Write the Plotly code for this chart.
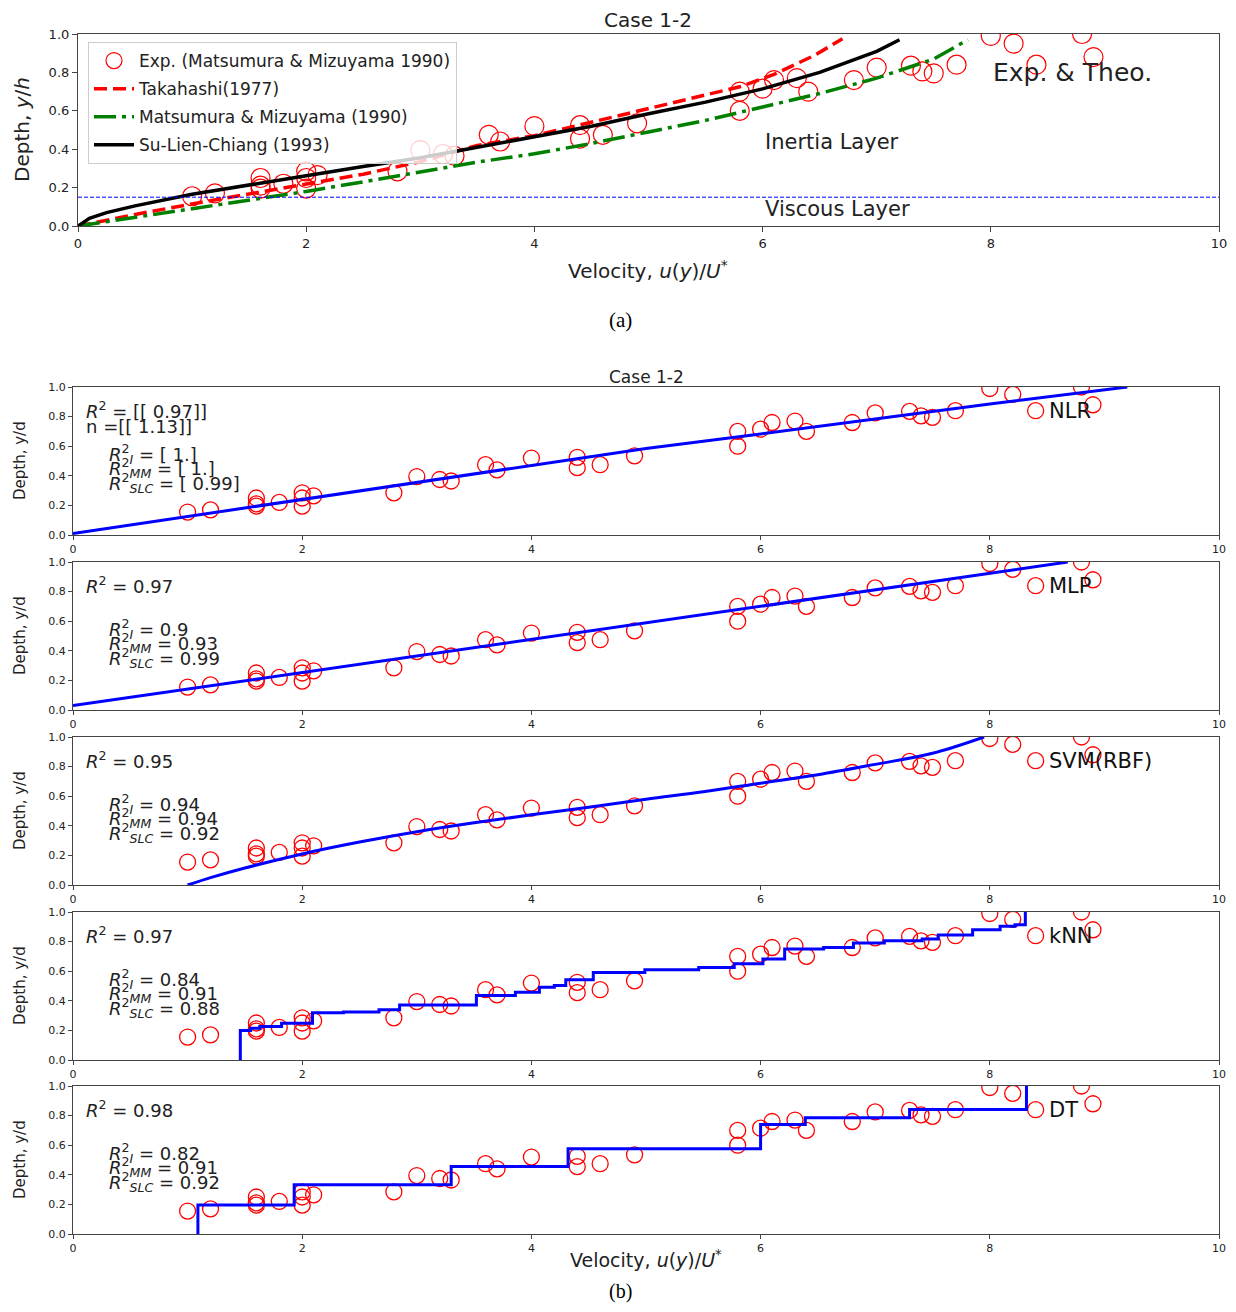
import plotly.graph_objects as go

# ---------------- data ----------------
exp_u = [1.0, 1.2, 1.6, 1.6, 1.6, 1.8, 2.0, 2.0, 2.0, 2.1, 2.8, 3.0, 3.2, 3.3, 3.6, 3.7, 4.0, 4.4, 4.4,
         4.6, 4.9, 5.8, 5.8, 6.0, 6.1, 6.3, 6.4, 6.8, 7.0, 7.3, 7.4, 7.5, 7.7, 8.0, 8.2, 8.4, 8.8, 8.9]
exp_y = [0.155, 0.17, 0.25, 0.21, 0.195, 0.22, 0.285, 0.25, 0.195, 0.265, 0.285, 0.395, 0.375, 0.365,
         0.475, 0.44, 0.52, 0.525, 0.455, 0.475, 0.535, 0.70, 0.60, 0.715, 0.76, 0.77, 0.70, 0.76, 0.825,
         0.835, 0.805, 0.795, 0.84, 0.99, 0.95, 0.84, 1.0, 0.88]

tak_u = [0, 0.5, 1, 1.5, 2, 2.5, 3, 3.5, 4, 4.5, 5, 5.5, 5.8, 6.1, 6.45, 6.7]
tak_y = [0, 0.06, 0.115, 0.168, 0.22, 0.27, 0.335, 0.42, 0.47, 0.54, 0.61, 0.68, 0.725, 0.79, 0.887, 0.975]

mm_u = [0, 0.5, 1, 1.5, 2, 2.5, 3, 3.5, 4, 4.5, 5, 5.5, 6, 6.5, 7, 7.5, 7.8]
mm_y = [0, 0.045, 0.09, 0.135, 0.18, 0.23, 0.28, 0.333, 0.376, 0.43, 0.49, 0.55, 0.62, 0.69, 0.77, 0.87, 0.97]

sl_u = [0, 0.1, 0.25, 0.5, 1, 1.5, 2, 2.5, 3, 3.5, 4, 4.5, 5, 5.5, 6, 6.5, 7, 7.2]
sl_y = [0, 0.04, 0.07, 0.105, 0.165, 0.215, 0.262, 0.31, 0.355, 0.41, 0.463, 0.52, 0.585, 0.645, 0.714, 0.8, 0.91, 0.97]

viscous_limit = 0.15

nlr_u = [0, 1, 2, 3, 4, 5, 6, 7, 8, 9.2]
nlr_y = [0.01, 0.125, 0.24, 0.357, 0.475, 0.585, 0.683, 0.785, 0.885, 1.0]

mlp_u = [0, 8.68]
mlp_y = [0.03, 1.0]

svm_u = [1.0, 1.2, 1.5, 2.0, 2.5, 3.0, 3.5, 4.0, 4.5, 5.0, 5.5, 6.0, 6.5, 7.0, 7.5, 7.95]
svm_y = [0.0, 0.05, 0.115, 0.21, 0.29, 0.36, 0.42, 0.474, 0.525, 0.58, 0.63, 0.688, 0.745, 0.815, 0.89, 1.0]

knn_u = [1.46, 1.46, 1.55, 1.63, 1.82, 2.09, 2.36, 2.67, 2.85, 3.52, 3.86, 4.07, 4.2, 4.3, 4.54, 4.99,
         5.46, 5.77, 6.02, 6.21, 6.55, 6.81, 7.08, 7.41, 7.55, 7.85, 8.09, 8.22, 8.31, 8.31]
knn_y = [0, 0.2, 0.214, 0.226, 0.248, 0.32, 0.325, 0.34, 0.372, 0.436, 0.458, 0.492, 0.503, 0.542, 0.591,
         0.61, 0.625, 0.65, 0.682, 0.75, 0.76, 0.79, 0.806, 0.817, 0.844, 0.88, 0.903, 0.914, 0.914, 1.05]

dt_u = [1.09, 1.09, 1.93, 3.3, 4.32, 6.0, 6.39, 7.3, 8.32, 8.32]
dt_y = [0, 0.196, 0.332, 0.456, 0.576, 0.74, 0.786, 0.842, 0.842, 1.05]

model_names = ["NLR", "MLP", "SVM(RBF)", "kNN", "DT"]
r2_text = ["<i>R</i><sup>2</sup> = [[ 0.97]]", "<i>R</i><sup>2</sup> = 0.97", "<i>R</i><sup>2</sup> = 0.95",
           "<i>R</i><sup>2</sup> = 0.97", "<i>R</i><sup>2</sup> = 0.98"]
r2_i = ["[ 1.]", "0.9", "0.94", "0.84", "0.82"]
r2_mm = ["[ 1.]", "0.93", "0.94", "0.91", "0.91"]
r2_slc = ["[ 0.99]", "0.99", "0.92", "0.88", "0.92"]

x_ticks = [0, 2, 4, 6, 8, 10]
y_ticks = [0.0, 0.2, 0.4, 0.6, 0.8, 1.0]

# ---------------- layout helpers ----------------
# the page body has an 8px margin; the figure is sized so that no scrollbars appear
OFF = 8
WF, HF = 1220, 1296
def fx(p): return (p - OFF) / WF
def fy(p): return 1 - (p - OFF) / HF

FONT = "DejaVu Sans"
AX = "#444"
TXT = "#222"

fig = go.Figure()

# ---------------- top panel ----------------
fig.add_trace(go.Scatter(x=exp_u, y=exp_y, mode="markers", name="Exp. (Matsumura & Mizuyama 1990)",
                         legendgroup="a",
                         marker=dict(symbol="circle-open", size=19, color="red", line=dict(width=1.2)),
                         xaxis="x", yaxis="y"))
fig.add_trace(go.Scatter(x=tak_u, y=tak_y, mode="lines", name="Takahashi(1977)", legendgroup="b",
                         line=dict(color="red", width=3.5, dash="13px,6px"), xaxis="x", yaxis="y"))
fig.add_trace(go.Scatter(x=mm_u, y=mm_y, mode="lines", name="Matsumura & Mizuyama (1990)", legendgroup="c",
                         line=dict(color="green", width=3.5, dash="22px,6px,4px,6px"), xaxis="x", yaxis="y"))
fig.add_trace(go.Scatter(x=sl_u, y=sl_y, mode="lines", name="Su-Lien-Chiang (1993)", legendgroup="d",
                         line=dict(color="black", width=3.5), xaxis="x", yaxis="y"))
fig.add_trace(go.Scatter(x=[x_ticks[0], x_ticks[-1]], y=[viscous_limit, viscous_limit], mode="lines",
                         showlegend=False, line=dict(color="blue", width=1, dash="4px,2px"),
                         xaxis="x", yaxis="y"))

def axis_style(domain, anchor, tickfont, ticklen=5):
    return dict(domain=domain, anchor=anchor, showline=True, linecolor=AX, linewidth=1.2, mirror=True,
                ticks="outside", ticklen=ticklen, tickcolor=AX, showgrid=False, zeroline=False,
                tickfont=tickfont, automargin=False)

layout = dict(template="none", width=WF, height=HF, autosize=False, margin=dict(l=0, r=0, t=0, b=0, pad=0),
              plot_bgcolor="white", paper_bgcolor="white", showlegend=True,
              legend=dict(x=fx(88), y=fy(42), xanchor="left", yanchor="top",
                          bgcolor="rgba(255,255,255,0.8)", bordercolor="#ccc", borderwidth=1,
                          font=dict(family=FONT, size=17, color=TXT), itemwidth=40,
                          tracegroupgap=3))

top_tick_font = dict(family=FONT, size=13, color=TXT)
layout["xaxis"] = axis_style([fx(78), fx(1219)], "y", top_tick_font)
layout["xaxis"].update(range=[0, 10], tickvals=x_ticks)
layout["yaxis"] = axis_style([fy(226), fy(34)], "x", top_tick_font)
layout["yaxis"].update(range=[0, 1.0], tickvals=y_ticks, tickformat=".1f")

ann = []
def add_ann(text, x, y, xref="paper", yref="paper", size=17, family=FONT, xanchor="center", angle=0,
            color=TXT):
    ann.append(dict(text=text, x=x, y=y, xref=xref, yref=yref, showarrow=False, xanchor=xanchor,
                    yanchor="middle", textangle=angle, font=dict(family=family, size=size, color=color)))

add_ann("Case 1-2", fx(648), fy(20), size=20)
add_ann("Depth, <i>y</i>/<i>h</i>", fx(22), fy(130), size=20, angle=-90)
add_ann("Velocity, <i>u</i>(<i>y</i>)/<i>U</i><sup>*</sup>", fx(648), fy(270), size=20)
add_ann("Inertia Layer", 6.61, 0.44, "x", "y", size=21)
add_ann("Viscous Layer", 6.66, 0.09, "x", "y", size=21)
add_ann("Exp. & Theo.", 8.72, 0.80, "x", "y", size=25)
add_ann("(a)", fx(620), fy(320), size=21, family="Liberation Serif", color="black")
add_ann("(b)", fx(620), fy(1291), size=20, family="Liberation Serif", color="black")

# ---------------- bottom panels ----------------
tops = [387, 562, 737, 912, 1086]
bots = [535, 710, 885, 1060, 1234]
fits = [(nlr_u, nlr_y, "linear"), (mlp_u, mlp_y, "linear"), (svm_u, svm_y, "spline"),
        (knn_u, knn_y, "hv"), (dt_u, dt_y, "hv")]
bot_tick_font = dict(family=FONT, size=11, color=TXT)
TS = 18

for i in range(5):
    k = i + 2
    xa, ya = f"x{k}", f"y{k}"
    fig.add_trace(go.Scatter(x=exp_u, y=exp_y, mode="markers", showlegend=False,
                             marker=dict(symbol="circle-open", size=16, color="red", line=dict(width=1.3)),
                             xaxis=xa, yaxis=ya))
    fu, fyv, shape = fits[i]
    fig.add_trace(go.Scatter(x=fu, y=fyv, mode="lines", showlegend=False,
                             line=dict(color="blue", width=3, shape=shape), xaxis=xa, yaxis=ya))
    layout[f"xaxis{k}"] = axis_style([fx(73), fx(1219)], ya, bot_tick_font, ticklen=4)
    layout[f"xaxis{k}"].update(range=[0, 10], tickvals=x_ticks)
    layout[f"yaxis{k}"] = axis_style([fy(bots[i]), fy(tops[i])], xa, bot_tick_font, ticklen=4)
    layout[f"yaxis{k}"].update(range=[0, 1.0], tickvals=y_ticks, tickformat=".1f")

    add_ann("Depth, y/d", fx(20), fy((tops[i] + bots[i]) / 2), size=15, angle=-90)
    add_ann(model_names[i], 8.5, 0.84, xa, ya, size=21, xanchor="left", color="#111")
    add_ann(r2_text[i], 0.1, 0.845, xa, ya, size=TS, xanchor="left")
    if i == 0:
        add_ann("n =[[ 1.13]]", 0.1, 0.735, xa, ya, size=TS, xanchor="left")
    add_ann("<i>R</i><sup>2</sup><sub><i>I</i></sub> = " + r2_i[i], 0.3, 0.55, xa, ya, size=TS,
            xanchor="left")
    add_ann("<i>R</i><sup>2</sup><sub><i>MM</i></sub> = " + r2_mm[i], 0.3, 0.45, xa, ya, size=TS,
            xanchor="left")
    add_ann("<i>R</i><sup>2</sup><sub><i>SLC</i></sub> = " + r2_slc[i], 0.3, 0.35, xa, ya, size=TS,
            xanchor="left")

add_ann("Case 1-2", fx(646), fy(377), size=17)
add_ann("Velocity, <i>u</i>(<i>y</i>)/<i>U</i><sup>*</sup>", fx(646), fy(1259), size=19)

layout["annotations"] = ann
fig.update_layout(**layout)
fig.write_html("out.html")
